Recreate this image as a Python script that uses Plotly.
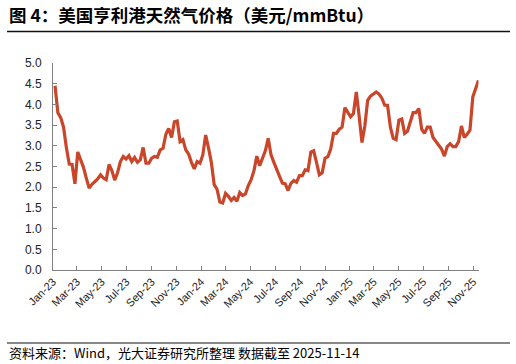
import pandas as pd
import plotly.graph_objects as go

# Weekly readings of Henry Hub price (USD/mmBtu), Jan 2023 – 14 Nov 2025
prices = [
    4.45, 3.80, 3.68, 3.45, 2.95, 2.56, 2.55, 2.08, 2.85, 2.68,
    2.48, 2.22, 1.98, 2.07, 2.14, 2.20, 2.30, 2.22, 2.18, 2.55,
    2.40, 2.17, 2.35, 2.62, 2.74, 2.68, 2.76, 2.62, 2.72, 2.60,
    2.66, 2.96, 2.58, 2.58, 2.70, 2.74, 2.72, 2.90, 2.94, 3.28,
    3.42, 3.20, 3.58, 3.60, 3.10, 3.15, 2.90, 2.80, 2.60, 2.44,
    2.62, 2.58, 2.78, 3.26, 2.95, 2.60, 2.06, 1.95, 1.64, 1.62,
    1.85, 1.78, 1.68, 1.75, 1.66, 1.87, 1.80, 1.84, 2.04, 2.18,
    2.40, 2.75, 2.52, 2.70, 2.88, 3.18, 2.78, 2.60, 2.45, 2.26,
    2.10, 2.08, 1.92, 2.09, 2.16, 2.12, 2.28, 2.28, 2.42, 2.40,
    2.85, 2.88, 2.60, 2.30, 2.35, 2.70, 2.74, 2.92, 3.30, 3.30,
    3.40, 3.45, 3.92, 3.80, 3.70, 3.78, 4.30, 3.72, 3.08, 3.48,
    4.10, 4.20, 4.25, 4.30, 4.25, 4.15, 3.98, 3.98, 3.45, 3.18,
    3.15, 3.62, 3.65, 3.30, 3.35, 3.56, 3.80, 3.80, 3.90, 3.40,
    3.30, 3.45, 3.45, 3.20, 3.10, 3.02, 2.92, 2.75, 2.98, 3.05,
    2.98, 2.98, 3.10, 3.48, 3.20, 3.28, 3.38, 4.18, 4.36, 4.58,
]
dates = pd.date_range(end="2025-11-14", periods=len(prices), freq="7D")

title_text = "图 4：美国亨利港天然气价格（美元/mmBtu）"
source_text = "资料来源：Wind，光大证券研究所整理 数据截至 2025-11-14"

W, H = 516, 364

fig = go.Figure()
fig.add_trace(go.Scatter(
    x=dates, y=prices, mode="lines",
    line=dict(color="#C9462A", width=3.2),
    showlegend=False,
))

axis_font = dict(family="Liberation Sans, Arial, sans-serif", size=12, color="#222222")

fig.update_layout(
    width=W, height=H,
    margin=dict(l=0, r=0, t=0, b=0, pad=0),
    paper_bgcolor="white", plot_bgcolor="white",
    xaxis=dict(
        domain=[53 / W, 478.5 / W],
        type="date",
        range=["2023-01-01", "2025-11-14"],
        tick0="2023-01-01", dtick="M2", tickformat="%b-%y",
        tickangle=-45, ticks="inside", ticklen=4, tickcolor="#808080",
        showline=True, linecolor="#808080", linewidth=1,
        showgrid=False, zeroline=False, automargin=False,
        tickfont=dict(family="Liberation Sans, Arial, sans-serif", size=11, color="#222222"),
    ),
    yaxis=dict(
        domain=[(H - 270) / H, (H - 63) / H],
        range=[0, 5], dtick=0.5, tick0=0, tickformat=".1f",
        ticks="inside", ticklen=4, tickcolor="#808080",
        showline=True, linecolor="#808080", linewidth=1,
        showgrid=False, zeroline=False, automargin=False,
        tickfont=axis_font, ticklabelstandoff=8,
    ),
    shapes=[
        dict(type="line", xref="paper", yref="paper", x0=7 / W, x1=510 / W,
             y0=(H - 31.5) / H, y1=(H - 31.5) / H,
             line=dict(color="#111111", width=1.3)),
        dict(type="line", xref="paper", yref="paper", x0=7 / W, x1=510 / W,
             y0=(H - 343) / H, y1=(H - 343) / H,
             line=dict(color="#111111", width=1.2)),
    ],
    annotations=[
        dict(text=title_text, xref="paper", yref="paper", x=7 / W, y=(H - 15) / H,
             xanchor="left", yanchor="middle", showarrow=False,
             font=dict(family="Noto Sans CJK SC", size=17.5, color="black", weight="bold")),
        dict(text=source_text, xref="paper", yref="paper", x=7 / W, y=(H - 352) / H,
             xanchor="left", yanchor="middle", showarrow=False,
             font=dict(family="Noto Sans CJK SC", size=13, color="black")),
    ],
)

fig.write_html("out.html", config={"displayModeBar": False},
               post_script="document.body.style.margin='0';")
